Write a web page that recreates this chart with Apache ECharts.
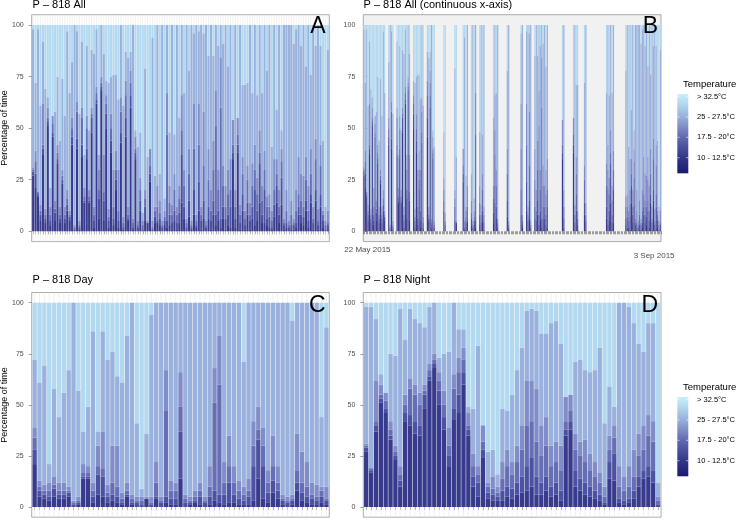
<!DOCTYPE html>
<html><head><meta charset="utf-8">
<script src="https://cdn.jsdelivr.net/npm/echarts@6/dist/echarts.min.js"></script>
<style>html,body{margin:0;padding:0;background:#fff}#c{width:740px;height:520px}</style>
</head><body><div id="c"></div>
<script>
// ---------- data ----------
const yTicks = [0, 25, 50, 75, 100];
const tempLabels = ['> 32.5°C', '25 - 27.5°C', '17.5 - 20°C', '10 - 12.5°C'];
const dateLabels = ['22 May 2015', '3 Sep 2015'];
const dateLabelDays = [0, 104];
// day offsets (from 22 May 2015) of the recorded dates, for the continuous axis
const recDays = [-1,0,1,2,3,4,5,6, 8,9,11,12,13,14,15,17,18,19,20,22,23,24,
  28,32,35,36,38,39,41,42,46,47, 51,56,58,59,61,62,63,64,65,71,75,76,79,87,88,89,
  94,95,96,97,98,99,100,101,102,103,104,105,106];

// Day: cumulative upper edge (% of time) of each temperature band, coldest first
const dayB1 = [21,5,4,3,5,4,4,5,0,1, 14,14,2,6,5,2,3,2,1,5, 1,0,0,4,0,4,0,2,1,1,
  14,0,1,2,1,0,1,3,2,1, 2,2,1,1,1,3,14,4,2,7, 4,1,0,1,8,3,2,1,1,2,1];
const dayB2 = [28,8,6,5,9,6,6,7,1,2, 15,15,5,16,15,5,6,5,2,6, 2,2,1,2,1,5,2,5,4,4,
  37,2,2,3,5,2,5,8,6,6, 12,6,4,3,5,20,33,20,7,13, 8,3,2,3,12,7,5,4,3,5,3];
const dayB3 = [34,10,8,8,11,8,8,8,2,3, 17,17,8,20,19,7,12,10,4,8, 4,3,3,3,2,12,3,47,8,8,
  49,4,3,5,8,3,10,51,60,12, 20,12,8,6,8,30,38,30,12,20, 12,4,3,4,18,12,10,6,5,8,4];
const dayB4 = [39,13,11,12,15,12,12,10,3,5, 21,20,12,30,37,11,30,30,7,12, 6,5,5,5,5,22,5,67,13,12,
  66,6,5,8,12,5,20,68,84,22, 35,20,13,10,14,42,49,39,18,35, 20,6,5,6,36,27,22,12,11,10,10];
const dayB5 = [72,61,69,21,58,44,56,67,100,57, 37,49,86,37,86,72,76,64,61,84, 100,41,9,36,94,100,100,100,100,100,
  100,100,100,100,100,100,100,100,100,100, 100,100,100,71,100,100,100,100,100,100, 100,100,100,91,100,100,100,100,100,44,88];

// Night
const nightB1 = [27,17,37,51,46,33,23,10,42,40, 36,35,48,62,68,50,38,20,43,46, 60,35,10,5,24,4,3,3,3,5,
  4,6,7,8,10,6,6,8,5,6, 3,35,38,10,8,6,5,4,3,1, 14,13,2,1,2,4,10,14,15,12,0];
const nightB2 = [29,18,40,53,48,35,25,13,46,45, 42,40,55,64,70,57,44,25,48,55, 66,38,15,12,28,7,6,5,8,10,
  9,12,15,20,24,15,12,15,10,12, 8,38,42,18,14,12,10,8,6,2, 22,26,4,3,4,8,15,18,20,18,1];
const nightB3 = [30,19,42,55,52,38,27,16,50,58, 55,50,57,67,72,62,50,30,58,66, 72,40,20,16,32,10,9,7,14,20,
  16,22,28,40,42,32,25,30,20,22, 18,42,47,28,25,22,18,15,12,5, 28,34,10,8,10,15,25,28,35,32,3];
const nightB4 = [31,19,62,60,56,42,30,20,55,63, 60,56,60,70,75,66,57,39,65,73, 78,46,26,20,40,12,15,10,22,28,
  22,30,40,62,62,58,40,44,30,32, 30,54,55,36,32,33,26,22,17,10, 35,40,20,15,20,28,36,40,45,42,5];
const nightB5 = [98,98,92,65,56,75,74,97,82,97, 92,90,88,98,100,73,75,76,100,87, 87,49,48,79,23,27,28,16,48,47,
  55,67,78,96,97,96,85,85,90,91, 80,54,55,71,72,67,66,67,78,41, 59,49,100,100,98,90,80,76,90,90,12];

// ---------- build ----------
const LAYER_COLORS = ['#383a8d', '#4c52a1', '#666eb4', '#808dc8', '#99b1dc', '#b3d9f0'];
// returns, per temperature band, [lower, upper] edges for each bar
function bands(b1, b2, b3, b4, b5) {
  const out = [[], [], [], [], [], []];
  for (let i = 0; i < b1.length; i++) {
    const e = [0, b1[i], b2[i], b3[i], b4[i], b5[i], 100];
    for (let k = 1; k < e.length; k++) e[k] = Math.max(e[k], e[k - 1]);
    for (let k = 0; k < 6; k++) out[k].push([e[k], e[k + 1]]);
  }
  return out;
}
const dayBands = bands(dayB1, dayB2, dayB3, dayB4, dayB5);
const nightBands = bands(nightB1, nightB2, nightB3, nightB4, nightB5);
const nDays = dayB1.length;
const allBands = [[], [], [], [], [], []];
for (let i = 0; i < nDays; i++) for (let k = 0; k < 6; k++) {
  allBands[k].push(nightBands[k][i]); allBands[k].push(dayBands[k][i]);
}
const idx = n => Array.from({length: n}, (_, i) => i + 1);
const xsAll = idx(2 * nDays), xsDay = idx(nDays);
const xsCont = [];
recDays.forEach(d => { xsCont.push(d - 0.25); xsCont.push(d + 0.25); });

const FONT = 'Liberation Sans, Arial, Helvetica, sans-serif';
const grids = [
  {left: 31.7, top: 14.7, width: 297.6, height: 226.9},
  {left: 363.3, top: 14.7, width: 297.7, height: 226.9, backgroundColor: '#f1f1f1'},
  {left: 31.7, top: 292.5, width: 297.6, height: 224.7},
  {left: 363.3, top: 292.5, width: 297.7, height: 224.7}
].map(g => Object.assign({show: true, borderColor: '#8a8a8a', borderWidth: 0.7, backgroundColor: '#fff'}, g));

const tickStyle = {color: '#444', width: 0.5};
function catX(gi, xs) {
  return {gridIndex: gi, type: 'value', min: 0.4, max: xs.length + 0.6,
    axisLine: {show: false}, splitLine: {show: false}, axisLabel: {show: false},
    axisTick: {show: true, length: 3, customValues: xs, lineStyle: tickStyle}};
}
const xAxes = [
  catX(0, xsAll),
  {gridIndex: 1, type: 'value', min: -1.5, max: 106.5, interval: 0.5,
    axisLine: {show: false}, splitLine: {show: false},
    axisTick: {show: true, length: 3, lineStyle: tickStyle},
    axisLabel: {customValues: dateLabelDays, margin: 4,
      formatter: v => (v === dateLabelDays[0] ? '{a|' + dateLabels[0] + '}' : '{b|' + dateLabels[1] + '}'),
      rich: {a: {fontSize: 8, color: '#4d4d4d', fontFamily: FONT},
             b: {fontSize: 8, color: '#4d4d4d', fontFamily: FONT, padding: [6, 0, 0, 0]}}}},
  catX(2, xsDay),
  catX(3, xsDay)
];
const yAxes = [0, 1, 2, 3].map(gi => ({gridIndex: gi, type: 'value', min: -5, max: 105,
  axisLine: {show: false}, splitLine: {show: false},
  axisTick: {show: true, length: 3, customValues: yTicks, lineStyle: tickStyle},
  axisLabel: {customValues: yTicks, fontSize: 7, color: '#4d4d4d', margin: 8, fontFamily: FONT}}));

const series = [];
function gridLines(gi, xs) {
  series.push({type: 'custom', xAxisIndex: gi, yAxisIndex: gi, silent: true, z: 1,
    data: xs.map(x => [x]), encode: {x: 0},
    renderItem: (p, api) => {
      const a = api.coord([api.value(0), 105]), b = api.coord([api.value(0), -5]);
      return {type: 'line', shape: {x1: a[0], y1: a[1], x2: b[0], y2: b[1]},
        style: {stroke: '#e8e8e8', lineWidth: 0.6}};
    }});
}
function addBars(gi, xs, bandsArr, halfW) {
  for (let k = 0; k < 6; k++) {
    const color = LAYER_COLORS[k];
    series.push({type: 'custom', xAxisIndex: gi, yAxisIndex: gi, silent: true, z: 2,
      encode: {x: 0, y: [1, 2]},
      data: xs.map((x, i) => [x, bandsArr[k][i][0], bandsArr[k][i][1]]),
      renderItem: (p, api) => {
        const x = api.value(0), lo = api.value(1), hi = api.value(2);
        if (!(hi > lo)) return null;
        const a = api.coord([x - halfW, hi]), b = api.coord([x + halfW, lo]);
        return {type: 'rect', shape: {x: a[0], y: a[1], width: b[0] - a[0], height: b[1] - a[1]},
          style: {fill: color}};
      }});
  }
}
gridLines(0, xsAll); gridLines(2, xsDay); gridLines(3, xsDay);
addBars(0, xsAll, allBands, 0.45);
addBars(1, xsCont, allBands, 0.225);
addBars(2, xsDay, dayBands, 0.45);
addBars(3, xsDay, nightBands, 0.45);

// ---------- text & legends ----------
const graphic = [];
function txt(t, x, y, size, opts) {
  graphic.push({type: 'text', x: x, y: y, silent: true, z: 100,
    style: Object.assign({text: t, font: size + 'px ' + FONT, fill: '#000',
      textAlign: 'left', textVerticalAlign: 'middle'}, opts || {})});
}
txt('P – 818 All', 32.5, 5, 11);
txt('P – 818 All (continuous x-axis)', 363.5, 5, 11);
txt('P – 818 Day', 32.5, 280, 11);
txt('P – 818 Night', 363.5, 280, 11);
txt('A', 325.5, 27, 23, {textAlign: 'right'});
txt('B', 658, 27, 23, {textAlign: 'right'});
txt('C', 325.5, 305.5, 23, {textAlign: 'right'});
txt('D', 658, 305.5, 23, {textAlign: 'right'});
graphic.push({type: 'text', x: 5, y: 128, rotation: Math.PI / 2, silent: true, z: 100,
  style: {text: 'Percentage of time', font: '9px ' + FONT, fill: '#000', textAlign: 'center', textVerticalAlign: 'middle'}});
graphic.push({type: 'text', x: 5, y: 405, rotation: Math.PI / 2, silent: true, z: 100,
  style: {text: 'Percentage of time', font: '9px ' + FONT, fill: '#000', textAlign: 'center', textVerticalAlign: 'middle'}});

function legend(dy) {
  txt('Temperature', 683, 84 + dy, 9.5);
  graphic.push({type: 'rect', silent: true, z: 100, shape: {x: 677.3, y: 94 + dy, width: 11, height: 79.3},
    style: {fill: new echarts.graphic.LinearGradient(0, 1, 0, 0, [
      {offset: 0, color: '#191970'}, {offset: 0.2, color: '#33378a'}, {offset: 0.45, color: '#6068b0'},
      {offset: 0.7, color: '#96addb'}, {offset: 0.88, color: '#b3d9f0'}, {offset: 1, color: '#c6effc'}])}});
  const ys = [96.7, 117, 137.3, 157.7];
  ys.forEach((y, i) => {
    graphic.push({type: 'line', silent: true, z: 101, shape: {x1: 677.3, y1: y + dy, x2: 679.5, y2: y + dy}, style: {stroke: '#fff', lineWidth: 0.6}});
    graphic.push({type: 'line', silent: true, z: 101, shape: {x1: 686.1, y1: y + dy, x2: 688.3, y2: y + dy}, style: {stroke: '#fff', lineWidth: 0.6}});
    txt(tempLabels[i], 697, y + dy, 7.5);
  });
}
legend(0); legend(303);

const chart = echarts.init(document.getElementById('c'), null, {renderer: 'canvas'});
chart.setOption({animation: false, grid: grids, xAxis: xAxes, yAxis: yAxes, series: series, graphic: graphic});
</script></body></html>
